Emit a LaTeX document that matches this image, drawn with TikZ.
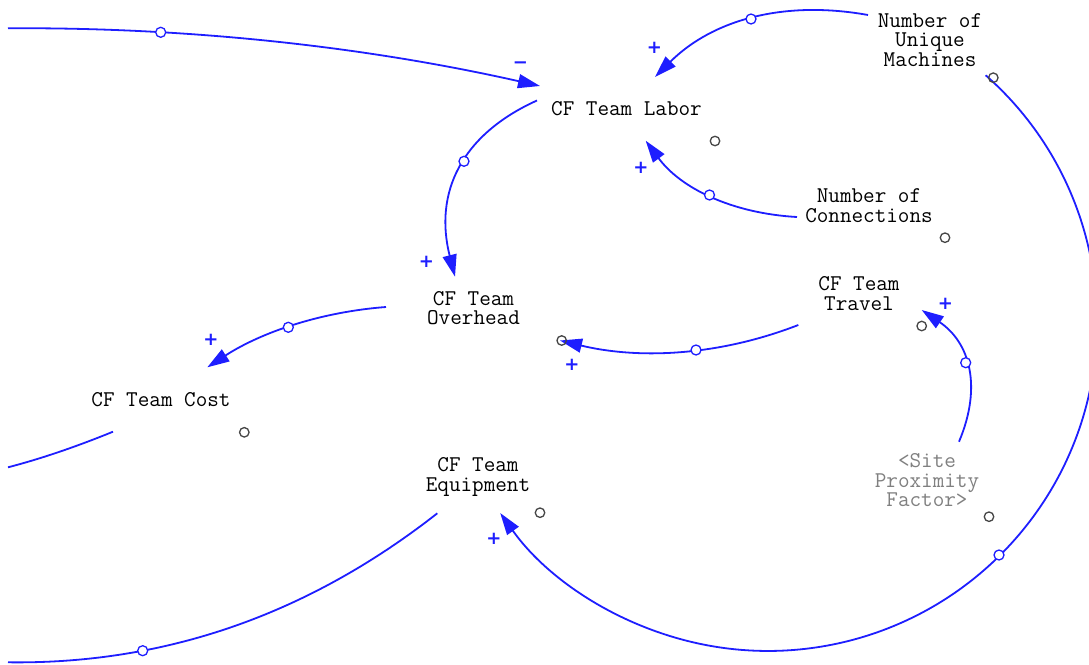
\documentclass[tikz,border=0pt]{standalone}
\usepackage{fontspec}
\usetikzlibrary{arrows.meta}
\newfontfamily\polfont{DejaVu Sans}
\definecolor{linkblue}{RGB}{30,30,255}
\definecolor{markgray}{RGB}{70,70,70}
\definecolor{shadowtext}{RGB}{128,128,128}
\begin{document}
\begin{tikzpicture}[x=1pt,y=-1pt,
  var/.style={font=\ttfamily\fontsize{22.5}{19.5}\selectfont, align=center, inner sep=0pt, text=black},
  shadowvar/.style={var, text=shadowtext},
  link/.style={draw=linkblue, line width=1.8pt, -{Triangle[length=22pt,width=14pt]}},
  plainlink/.style={draw=linkblue, line width=1.8pt},
  handle/.style={circle, draw=linkblue, fill=white, line width=1.3pt, inner sep=0pt, minimum size=10pt},
  marker/.style={circle, draw=markgray, line width=1.3pt, inner sep=0pt, minimum size=9.5pt},
  pol/.style={font=\polfont\bfseries\fontsize{18}{18}\selectfont, text=linkblue, inner sep=0pt}]

\fill[white] (0,0) rectangle (1089,664);
\useasboundingbox (0,0) rectangle (1089,664);
\clip (0,0) rectangle (1089,664);

% variables
\node[var] (labor) at (626.5,109) {CF Team Labor};
\node[var] (machines) at (930,40) {Number of\\Unique\\Machines};
\node[var] (connections) at (869,205.6) {Number of\\Connections};
\node[var] (overhead) at (473.5,308) {CF Team\\Overhead};
\node[var] (travel) at (859,293.7) {CF Team\\Travel};
\node[var] (cost) at (161,400) {CF Team Cost};
\node[var] (equipment) at (478,477) {CF Team\\Equipment};
\node[shadowvar] (proximity) at (927,480.5) {<Site\\Proximity\\Factor>};

% connector end points
\coordinate (inA) at (8,28.3);        \coordinate (laborA) at (540,86);
\coordinate (machinesA) at (868,15);  \coordinate (laborB) at (655,77);
\coordinate (connectionsA) at (797,217); \coordinate (laborC) at (645.7,140.7);
\coordinate (laborD) at (537,100.5);  \coordinate (overheadA) at (455,276.7);
\coordinate (overheadB) at (386,307); \coordinate (costA) at (207.3,367.3);
\coordinate (travelA) at (798.3,325); \coordinate (overheadC) at (560,340.5);
\coordinate (proximityA) at (959,441.7); \coordinate (travelB) at (921.7,310);
\coordinate (machinesB) at (985.6,75.2);
\coordinate (costB) at (113,431.7);   \coordinate (outA) at (8,467.3);
\coordinate (equipmentA) at (437.3,513.3); \coordinate (outB) at (8,662.3);

% links
\draw[link] (inA) .. controls (187.1,27.1) and (364.4,46.4) .. (laborA);
\draw[link] (machinesA) .. controls (783,-0.3) and (712,20.3) .. (laborB);
\draw[link] (connectionsA) .. controls (731,213.3) and (680.3,187.7) .. (laborC);
\draw[link] (laborD) .. controls (461.1,134.7) and (433.8,193) .. (overheadA);
\draw[link] (overheadB) .. controls (321.3,311.9) and (261.7,332) .. (costA);
\draw[link] (travelA) .. controls (721.2,354.9) and (641.7,360.1) .. (overheadC);
\draw[link] (proximityA) .. controls (982.3,386.5) and (969.9,342.6) .. (travelB);
\draw[link] (machinesB) arc[start angle=-48.6, end angle=144.5, radius=329];
\draw[plainlink] (costB) .. controls (74.7,447.3) and (40,459) .. (outA);
\draw[plainlink] (equipmentA) .. controls (307.8,614.8) and (164.7,664.4) .. (outB);

% link handles
\node[handle] (h1) at (160.7,32.3) {};
\node[handle] (h2) at (751,19) {};
\node[handle] (h3) at (709.5,195) {};
\node[handle] (h4) at (464,161.3) {};
\node[handle] (h5) at (288.3,327.3) {};
\node[handle] (h6) at (696,350) {};
\node[handle] (h7) at (965.7,362.7) {};
\node[handle] (h8) at (999,555) {};
\node[handle] (h9) at (142.7,650.7) {};

% variable markers
\node[marker] (m1) at (715,141) {};
\node[marker] (m2) at (993.3,77.7) {};
\node[marker] (m3) at (945,237.7) {};
\node[marker] (m4) at (921.7,326) {};
\node[marker] (m5) at (561.7,340.5) {};
\node[marker] (m6) at (244.3,432.3) {};
\node[marker] (m7) at (540,512.7) {};
\node[marker] (m8) at (989,516.7) {};

% polarities
\node[pol] (p1) at (520.5,65.5) {−};
\node[pol] (p2) at (654.5,47.5) {+};
\node[pol] (p3) at (641,167.7) {+};
\node[pol] (p4) at (426.3,262.3) {+};
\node[pol] (p5) at (211,340) {+};
\node[pol] (p6) at (572,365) {+};
\node[pol] (p7) at (945.3,304) {+};
\node[pol] (p8) at (493.8,539) {+};
\end{tikzpicture}
\end{document}
